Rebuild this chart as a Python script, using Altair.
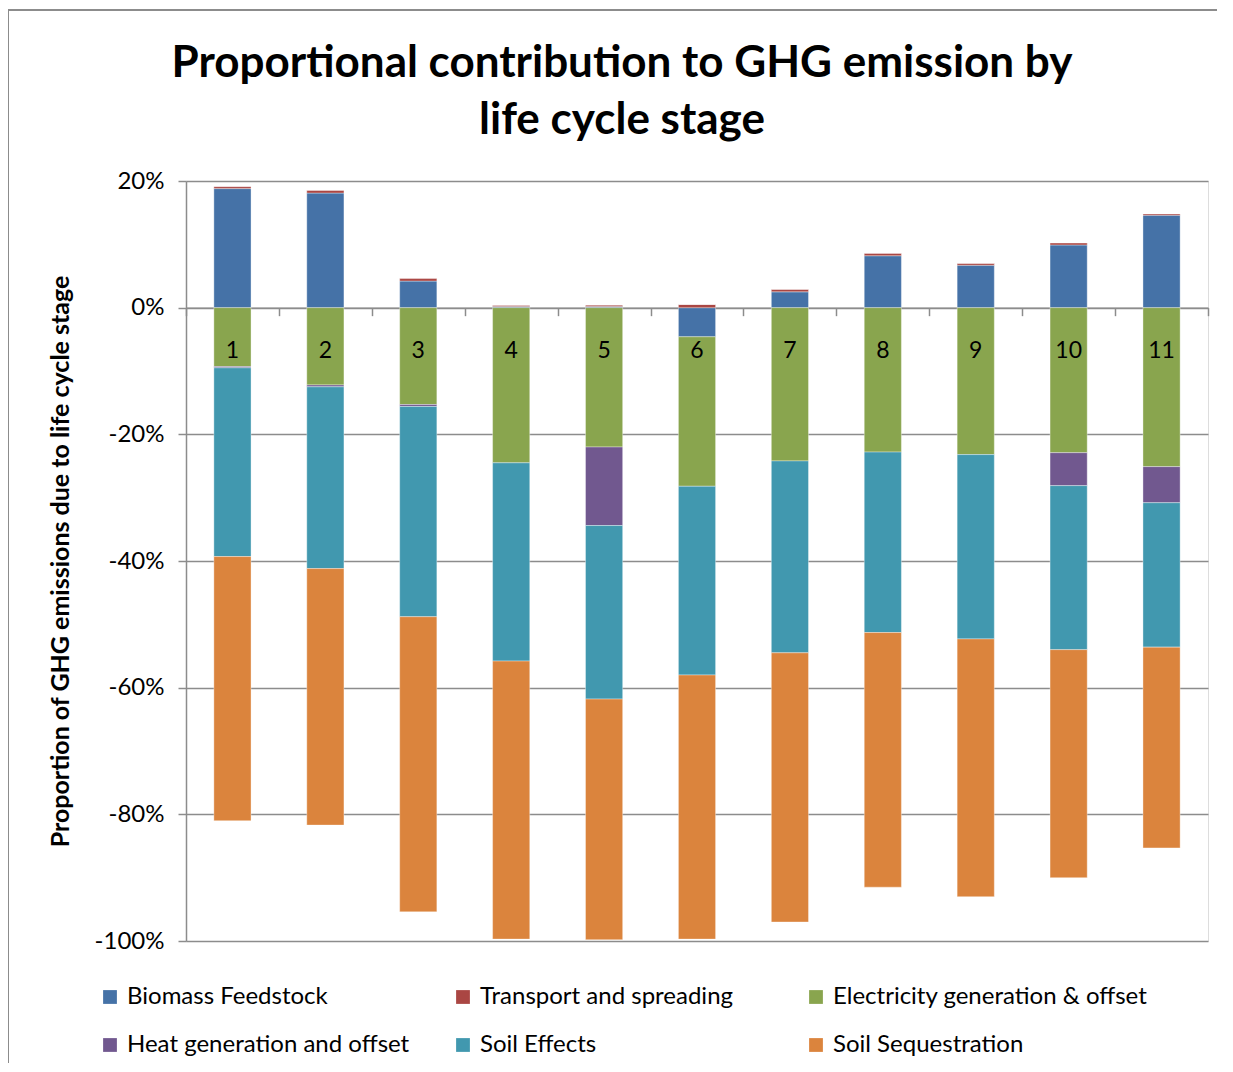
import altair as alt
import pandas as pd

stages = ["1", "2", "3", "4", "5", "6", "7", "8", "9", "10", "11"]
series = ["Biomass Feedstock", "Transport and spreading", "Electricity generation & offset",
          "Heat generation and offset", "Soil Effects", "Soil Sequestration"]
colors = ["#4572A7", "#AA4643", "#89A54E", "#71588F", "#4198AF", "#DB843D"]

biomass = [18.8, 18.1, 4.2, 0.2, 0.2, -4.6, 2.5, 8.2, 6.7, 9.9, 14.6]
transport = [0.3, 0.4, 0.4, 0.2, 0.2, 0.5, 0.4, 0.4, 0.3, 0.3, 0.2]
electricity = [-9.3, -12.2, -15.3, -24.5, -22.0, -23.6, -24.2, -22.8, -23.2, -22.9, -25.1]
heat = [-0.2, -0.3, -0.3, 0.0, -12.4, 0.0, 0.0, 0.0, 0.0, -5.2, -5.7]
soil_effects = [-29.8, -28.7, -33.2, -31.3, -27.4, -29.8, -30.3, -28.5, -29.1, -25.9, -22.8]
soil_seq = [-41.7, -40.5, -46.6, -43.9, -38.0, -41.7, -42.5, -40.2, -40.7, -36.0, -31.7]

all_vals = [biomass, transport, electricity, heat, soil_effects, soil_seq]
rows = []
for k, (name, vals) in enumerate(zip(series, all_vals)):
    for s, v in zip(stages, vals):
        rows.append({"stage": s, "series": name, "value": v, "ord": k})
df = pd.DataFrame(rows)
lab_df = pd.DataFrame({"stage": stages})

W, H = 1022, 760
FONT = "Lato"
GRID = "#8C8C8C"

x_enc = alt.X("stage:N", sort=stages, title=None,
              scale=alt.Scale(paddingInner=0, paddingOuter=0),
              axis=alt.Axis(labels=False, tickBand="extent", tickSize=8,
                            tickColor=GRID, domainColor=GRID, tickWidth=1.5,
                            domainWidth=1.5, offset=-(H - H * 20 / 120)))

bars = alt.Chart(df).mark_bar(width=alt.RelativeBandSize(0.4), stroke="white",
                              strokeWidth=0.6, strokeOpacity=0.6).encode(
    x=x_enc,
    y=alt.Y("value:Q", stack="zero",
            scale=alt.Scale(domain=[-100, 20], nice=False, zero=False),
            title="Proportion of GHG emissions due to life cycle stage",
            axis=alt.Axis(values=[-100, -80, -60, -40, -20, 0, 20],
                          labelExpr="datum.value + '%'",
                          labelFont=FONT, labelFontSize=24, labelColor="#000000",
                          labelPadding=14, tickSize=8, tickColor=GRID, tickWidth=1.5,
                          domainColor=GRID, domainWidth=1.5,
                          gridColor=GRID, gridWidth=1.5,
                          titleFont=FONT, titleFontSize=25, titleFontWeight="bold",
                          titleColor="#000000", titleAngle=-90,
                          titleX=-126, titleY=H / 2, titleAlign="center",
                          titleBaseline="middle")),
    color=alt.Color("series:N", sort=series,
                    scale=alt.Scale(domain=series, range=colors),
                    legend=alt.Legend(title=None, orient="none", legendX=-88, legendY=804,
                                      columns=3, gridAlign="all", columnPadding=9,
                                      rowPadding=24, symbolType="square", symbolSize=190,
                                      symbolStrokeWidth=0, labelFont=FONT,
                                      labelFontSize=24, labelColor="#000000",
                                      labelOffset=5, labelLimit=400,
                                      direction="horizontal")),
    order=alt.Order("ord:Q", sort="ascending"),
)

labels = alt.Chart(lab_df).mark_text(font=FONT, fontSize=23, color="#000000",
                                     baseline="middle", dy=43).encode(
    x=alt.X("stage:N", sort=stages),
    y=alt.datum(0),
    text="stage:N",
)

frame = alt.Chart(lab_df).mark_rect(fill=None, stroke="#8C8C8C", strokeWidth=1.5).encode(
    x=alt.value(-178), x2=alt.value(1100), y=alt.value(-171), y2=alt.value(950)
)

chart = alt.layer(frame, bars, labels).properties(
    width=W, height=H,
    title=alt.TitleParams(
        text=["Proportional contribution to GHG emission by", "life cycle stage"],
        font=FONT, fontSize=44, fontWeight="bold", color="#000000",
        anchor="middle", dx=-75, offset=-134, lineHeight=57),
    padding={"left": 178, "top": 173, "right": 9, "bottom": 122},
    autosize=alt.AutoSizeParams(type="none"),
).configure_view(stroke=None).configure(background="white")

chart.save("out.html", embed_options={"renderer": "svg", "actions": False})
